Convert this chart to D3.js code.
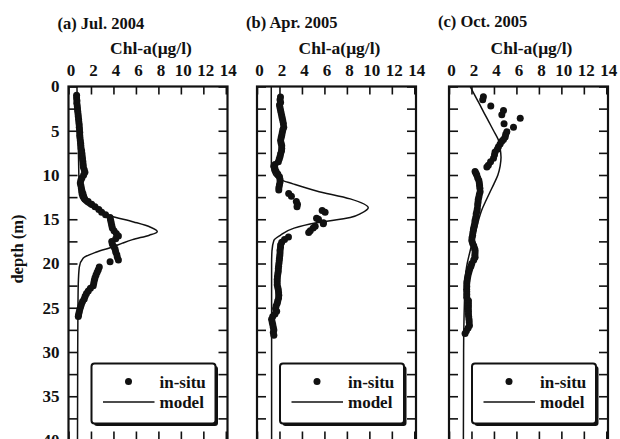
<!DOCTYPE html>
<html>
<head>
<meta charset="utf-8">
<script src="https://cdn.jsdelivr.net/npm/d3@7"></script>
<style>
  html, body { margin: 0; padding: 0; background: #fff; }
  svg { display: block; }
  text { font-family: "Liberation Serif", "Times New Roman", serif; font-weight: bold; fill: #111; }
</style>
</head>
<body>
<svg id="chart" width="620" height="439"></svg>
<script>
// Axis ticks and labels
const chlTicks = [0, 2, 4, 6, 8, 10, 12, 14];
const depthTicks = [0, 2.5, 5, 7.5, 10, 12.5, 15, 17.5, 20, 22.5, 25, 27.5, 30, 32.5, 35, 37.5, 40];
const panelTitles = ["(a) Jul. 2004", "(b) Apr. 2005", "(c) Oct. 2005"];
const xLabel = "Chl-a(\u03bcg/l)";
const yLabel = "depth (m)";
const legendLabels = ["in-situ", "model"];

// (a) Jul. 2004 — in-situ profile
const insituDepthA = [1.0,1.3,1.6,1.9,2.2,2.5,2.8,3.1,3.4,3.7,4.0,4.3,4.6,4.9,5.2,5.5,5.8,6.1,6.4,6.7,7.0,7.3,7.6,7.9,8.2,8.5,8.8,9.1,9.4,9.7,10.0,10.3,10.6,10.9,11.2,11.5,11.8,12.1,12.4,12.7,13.0,13.3,13.6,13.9,14.2,14.5,14.8,15.1,15.4,15.7,16.0,16.3,16.6,16.9,17.2,17.5,17.8,18.1,18.4,18.7,19.0,19.3,19.6,19.8,20.4,20.7,21.0,21.3,21.6,21.9,22.2,22.5,22.8,23.1,23.4,23.7,24.0,24.3,24.6,24.9,25.2,25.5,25.8,26.0];
const insituChlA   = [0.72,0.72,0.75,0.74,0.78,0.8,0.82,0.85,0.87,0.9,0.92,0.95,0.96,0.98,1.0,1.0,1.02,1.05,1.08,1.1,1.12,1.17,1.2,1.22,1.25,1.28,1.3,1.32,1.4,1.46,1.35,1.2,1.1,1.05,1.1,1.15,1.2,1.28,1.35,1.45,1.75,2.06,2.36,2.7,2.95,3.3,3.7,3.75,3.8,3.85,3.9,4.05,4.25,4.44,4.2,3.85,3.9,4.05,4.15,4.2,4.3,4.35,4.44,3.7,2.74,2.65,2.55,2.45,2.36,2.3,2.25,2.2,1.95,1.76,1.6,1.48,1.4,1.25,1.15,1.08,1.0,0.95,0.9,0.87];
// (a) model profile
const modelDepthA = [0,5,10,12,13,13.5,14,14.6,15.3,15.9,16.4,16.8,17.3,17.7,18.1,18.7,19.4,20.4,22.3,25,30,40];
const modelChlA   = [0.75,0.85,0.92,0.95,1.3,1.8,2.6,3.7,5.8,7.3,7.9,7.2,5.7,4.8,4.0,2.5,1.3,0.96,0.87,0.84,0.82,0.8];

// (b) Apr. 2005 — in-situ profile
const insituDepthB = [1.2,1.5,1.8,2.1,2.4,2.7,3.0,3.3,3.6,3.9,4.2,4.6,4.9,5.2,5.5,5.8,6.1,6.4,6.7,7.0,7.3,7.6,7.9,8.2,8.5,8.8,9.0,9.3,9.6,9.9,10.2,10.5,10.8,11.1,11.4,11.7,12.1,12.4,13.0,13.3,13.6,14.0,14.2,14.9,15.0,15.4,15.5,15.8,16.0,16.3,16.5,17.0,17.3,17.6,17.9,18.2,18.5,18.8,19.1,19.4,19.7,20.0,20.3,20.6,20.9,21.2,21.5,21.8,22.1,22.4,22.7,23.0,23.3,23.6,23.9,24.2,24.5,24.8,25.1,25.4,25.7,26.0,26.3,26.6,26.9,27.2,27.5,27.8,28.1];
const insituChlB   = [2.09,2.05,2.1,2.0,2.05,2.1,2.15,2.2,2.25,2.3,2.35,2.38,2.3,2.25,2.2,2.15,2.1,2.15,2.2,2.2,2.18,2.1,2.05,1.98,1.9,1.6,1.5,1.6,1.7,1.85,2.0,2.05,2.05,2.0,1.95,1.94,2.82,3.06,3.5,3.6,3.56,5.8,6.06,5.3,5.47,5.91,5.9,5.18,5.0,4.74,4.6,2.8,2.45,2.2,2.1,2.09,2.05,2.05,2.03,2.0,1.98,1.95,1.92,1.9,1.89,1.85,1.82,1.8,1.8,1.8,1.85,1.9,1.92,1.94,1.92,1.85,1.8,1.7,1.65,1.75,1.6,1.4,1.3,1.35,1.4,1.45,1.5,1.45,1.5];
// (b) model profile
const modelDepthB = [0,5,9,10,10.5,11,11.8,12.7,13.7,14.3,14.8,15.4,16.0,16.8,17.4,18.6,20,25,30,40];
const modelChlB   = [1.27,1.27,1.28,1.5,2.0,3.2,5.3,8.3,9.9,9.3,8.3,5.3,3.3,2.1,1.5,1.33,1.3,1.3,1.3,1.3];

// (c) Oct. 2005 — in-situ profile
const insituDepthC = [1.15,1.5,2.2,2.7,3.2,3.6,4.2,4.6,5.1,5.4,5.7,6.0,6.2,6.5,6.8,7.1,7.4,7.7,8.1,8.5,8.9,9.1,9.6,9.8,10.0,10.3,10.6,10.9,11.2,11.5,11.9,12.2,12.5,12.8,13.1,13.4,13.8,14.1,14.4,14.8,15.1,15.4,15.7,16.0,16.2,16.5,16.8,17.1,17.4,17.7,18.0,18.3,18.5,18.8,19.1,19.3,19.6,20.0,20.3,20.6,20.9,21.1,21.4,21.7,22.0,22.3,22.6,22.9,23.2,23.5,23.8,24.2,24.5,24.8,25.1,25.4,25.7,26.0,26.3,26.6,27.0,27.3,27.6,27.9];
const insituChlC   = [3.06,3.0,3.72,4.85,4.7,6.34,4.9,5.74,5.15,5.05,5.0,4.85,4.7,4.55,4.4,4.3,4.1,4.05,3.96,3.7,3.5,3.37,2.32,2.4,2.47,2.55,2.65,2.7,2.72,2.75,2.77,2.7,2.65,2.6,2.58,2.55,2.52,2.48,2.42,2.38,2.32,2.3,2.25,2.2,2.17,2.13,2.1,2.05,2.03,2.1,2.2,2.28,2.32,2.32,2.3,2.32,2.2,2.03,1.95,1.85,1.78,1.73,1.68,1.64,1.6,1.58,1.58,1.57,1.58,1.58,1.58,1.73,1.72,1.73,1.72,1.73,1.73,1.75,1.78,1.8,1.82,1.7,1.55,1.43];
// (c) model profile
const modelDepthC = [0,1,2,3,4,5,6,7,8,9,10,11,12,13,14,15,16,17,18,19,20,21,22,24,26,28,30,40];
const modelChlC   = [1.88,2.3,2.72,3.13,3.55,3.97,4.38,4.55,4.63,4.55,4.35,4.0,3.62,3.25,2.9,2.65,2.45,2.22,2.0,1.8,1.62,1.5,1.44,1.38,1.34,1.31,1.3,1.28];

const panels = [
  { title: panelTitles[0], left: 68.5, titleY: 29, insituD: insituDepthA, insituV: insituChlA, modelD: modelDepthA, modelV: modelChlA, depthLabels: true },
  { title: panelTitles[1], left: 257,  titleY: 27.5, insituD: insituDepthB, insituV: insituChlB, modelD: modelDepthB, modelV: modelChlB, depthLabels: false },
  { title: panelTitles[2], left: 449,  titleY: 26.5, insituD: insituDepthC, insituV: insituChlC, modelD: modelDepthC, modelV: modelChlC, depthLabels: false }
];

const plotW = 159, plotTop = 86.5, plotBottom = 440.5;
const svg = d3.select("#chart");

const y = d3.scaleLinear().domain([0, 40]).range([plotTop, plotBottom]);

panels.forEach(p => {
  const x = d3.scaleLinear().domain([0, 14.15]).range([p.left, p.left + plotW]);
  const g = svg.append("g");

  // title and x-axis caption
  g.append("text").attr("x", p.left - 11).attr("y", p.titleY).attr("font-size", 16.5).text(p.title);
  g.append("text").attr("x", p.left + plotW / 2 + 3).attr("y", 54).attr("text-anchor", "middle")
    .attr("font-size", 17.5).text(xLabel);

  // model line
  const line = d3.line().x((d, i) => x(p.modelV[i])).y((d, i) => y(p.modelD[i])).curve(d3.curveMonotoneY);
  g.append("path").datum(p.modelD).attr("d", line)
    .attr("fill", "none").attr("stroke", "#111").attr("stroke-width", 1.5);

  // in-situ points
  g.append("g").selectAll("circle").data(p.insituD).join("circle")
    .attr("cx", (d, i) => x(p.insituV[i])).attr("cy", d => y(d)).attr("r", 3.5).attr("fill", "#111");

  // axes with inward ticks
  const axTop = g.append("g").attr("transform", `translate(0,${plotTop})`)
    .call(d3.axisTop(x).tickValues(chlTicks).tickSizeInner(-8).tickSizeOuter(0).tickPadding(11));
  const axBot = g.append("g").attr("transform", `translate(0,${plotBottom})`)
    .call(d3.axisBottom(x).tickValues(chlTicks).tickSizeInner(-9).tickSizeOuter(0).tickFormat(""));
  const axLeft = g.append("g").attr("transform", `translate(${p.left},0)`)
    .call(d3.axisLeft(y).tickValues(depthTicks).tickSizeInner(-9).tickSizeOuter(0).tickPadding(9)
      .tickFormat(d => (p.depthLabels && d % 5 === 0) ? d : ""));
  const axRight = g.append("g").attr("transform", `translate(${p.left + plotW},0)`)
    .call(d3.axisRight(y).tickValues(depthTicks).tickSizeInner(-9).tickSizeOuter(0).tickFormat(""));

  [axTop, axBot, axLeft, axRight].forEach(a => {
    a.select(".domain").remove();
    a.selectAll(".tick line").attr("stroke", "#111").attr("stroke-width", 1.6);
    a.selectAll(".tick text").attr("font-size", 17).attr("font-family", "Liberation Serif, serif")
      .attr("font-weight", "bold").attr("fill", "#111");
  });
  axTop.selectAll(".tick text").attr("dx", 2);
  axLeft.selectAll(".tick text").filter(function () { return this.textContent === ""; }).remove();

  // frame
  g.append("rect").attr("x", p.left).attr("y", plotTop).attr("width", plotW).attr("height", plotBottom - plotTop)
    .attr("fill", "none").attr("stroke", "#111").attr("stroke-width", 2.2);

  // legend with drop shadow
  const lx = p.left + 23, ly = 363.5, lw = 124, lh = 60;
  const lg = g.append("g");
  lg.append("rect").attr("x", lx + 2.5).attr("y", ly + 2.5).attr("width", lw).attr("height", lh).attr("rx", 3).attr("fill", "#111");
  lg.append("rect").attr("x", lx).attr("y", ly).attr("width", lw).attr("height", lh).attr("rx", 3)
    .attr("fill", "#fff").attr("stroke", "#111").attr("stroke-width", 2);
  lg.append("circle").attr("cx", lx + 37).attr("cy", ly + 18).attr("r", 3.5).attr("fill", "#111");
  lg.append("text").attr("x", lx + 68).attr("y", ly + 24).attr("font-size", 17).text(legendLabels[0]);
  lg.append("line").attr("x1", lx + 11.5).attr("x2", lx + 63).attr("y1", ly + 38.5).attr("y2", ly + 38.5)
    .attr("stroke", "#111").attr("stroke-width", 1.5);
  lg.append("text").attr("x", lx + 68).attr("y", ly + 44.5).attr("font-size", 17).text(legendLabels[1]);
});

// depth axis caption
svg.append("text").attr("transform", "translate(23,249) rotate(-90)").attr("text-anchor", "middle")
  .attr("font-size", 16.5).text(yLabel);
</script>
</body>
</html>
